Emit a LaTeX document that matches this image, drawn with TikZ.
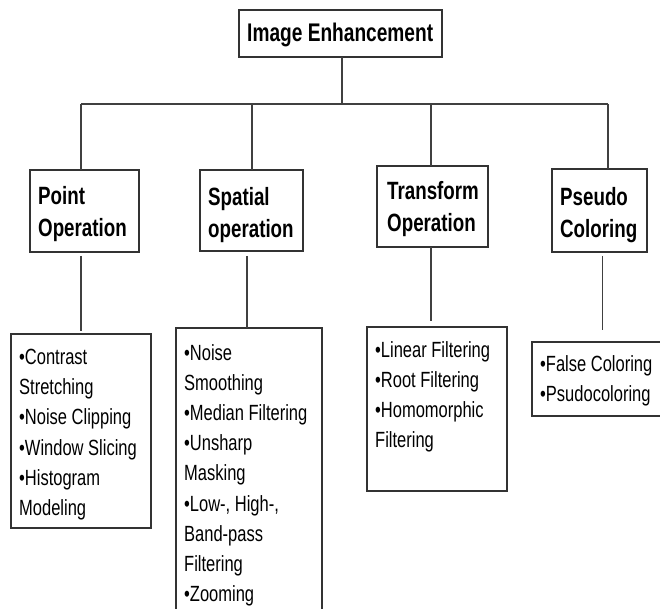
\documentclass[tikz,border=0pt]{standalone}
\usepackage{fontspec}
\setmainfont{Liberation Sans}[FakeStretch=0.75]
\begin{document}
\begin{tikzpicture}[x=1pt,y=-1pt,
  box/.style={draw=black!80, line width=1.1pt, inner sep=0pt, outer sep=0pt, anchor=north west},
  conn/.style={draw=black!75, line width=1.1pt},
  maintext/.style={anchor=north west, inner sep=0pt, align=left, font=\bfseries\fontsize{25.5}{33}\selectfont},
  hdtext/.style={anchor=north west, inner sep=0pt, align=left, font=\bfseries\fontsize{25}{32}\selectfont},
  listtext/.style={anchor=north west, inner sep=0pt, align=left, font=\fontsize{22}{30.2}\selectfont}]
\clip (0,0) rectangle (660,609);
\fill[white] (0,0) rectangle (660,609);
% boxes
\node[box, minimum width=203pt, minimum height=47pt] (main) at (239,10) {};
\node[box, minimum width=109pt, minimum height=82pt] (po) at (30,170) {};
\node[box, minimum width=103pt, minimum height=81pt] (sp) at (200,170) {};
\node[box, minimum width=111pt, minimum height=81pt] (tr) at (377,166) {};
\node[box, minimum width=95pt, minimum height=83pt] (ps) at (552,169) {};
\node[box, minimum width=140pt, minimum height=194pt] (pol) at (11,334) {};
\node[box, minimum width=146pt, minimum height=300pt] (spl) at (176,328) {};
\node[box, minimum width=140pt, minimum height=164pt] (trl) at (367,327) {};
\node[box, minimum width=140pt, minimum height=74pt] (psl) at (532,342) {};
% texts
\node[maintext] (maint) at ([xshift=8pt,yshift=-13pt]main.north west) {Image Enhancement};
\node[hdtext] (pot) at ([xshift=8pt,yshift=-16pt]po.north west) {Point\\Operation};
\node[hdtext] (spt) at ([xshift=8pt,yshift=-17pt]sp.north west) {Spatial\\operation};
\node[hdtext] (trt) at ([xshift=10pt,yshift=-15pt]tr.north west) {Transform\\Operation};
\node[hdtext] (pst) at ([xshift=8pt,yshift=-18pt]ps.north west) {Pseudo\\Coloring};
\node[listtext] (polt) at ([xshift=8pt,yshift=-15pt]pol.north west)
  {•Contrast\\Stretching\\•Noise Clipping\\•Window Slicing\\•Histogram\\Modeling};
\node[listtext] (splt) at ([xshift=8pt,yshift=-16pt]spl.north west)
  {•Noise\\Smoothing\\•Median Filtering\\•Unsharp\\Masking\\•Low-, High-,\\Band-pass\\Filtering\\•Zooming};
\node[listtext] (trlt) at ([xshift=8pt,yshift=-14pt]trl.north west)
  {•Linear Filtering\\•Root Filtering\\•Homomorphic\\Filtering};
\node[listtext] (pslt) at ([xshift=8pt,yshift=-13pt]psl.north west)
  {•False Coloring\\•Psudocoloring};
% connectors
\coordinate (j1) at (81,104);
\coordinate (j2) at (252,104);
\coordinate (j3) at (431,104);
\coordinate (j4) at (608,104);
\draw[conn] ([xshift=1.5pt]main.south) -- ([xshift=1.5pt]main.south |- j1);
\draw[conn] (j1) -- (j4);
\draw[conn] (j1) -- (j1 |- po.north);
\draw[conn] (j2) -- (j2 |- sp.north);
\draw[conn] (j3) -- (j3 |- tr.north);
\draw[conn] (j4) -- (j4 |- ps.north);
\draw[conn] ([xshift=-3.5pt,yshift=-4pt]po.south) -- ([yshift=3pt]pol.north);
\draw[conn] ([xshift=-4.5pt,yshift=-5pt]sp.south) -- ([xshift=-2pt]spl.north);
\draw[conn] ([xshift=-1.5pt]tr.south) -- ([xshift=-6pt,yshift=6pt]trl.north);
\draw[conn] ([xshift=3pt,yshift=-4pt]ps.south) -- ([xshift=0.5pt,yshift=12pt]psl.north);
\end{tikzpicture}
\end{document}
